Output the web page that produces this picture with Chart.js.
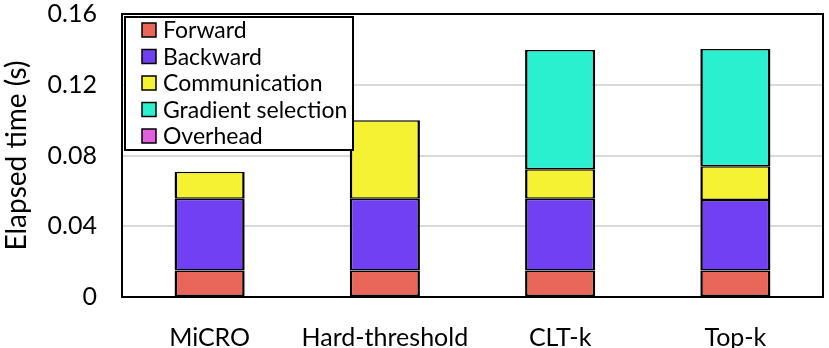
<!DOCTYPE html>
<html>
<head>
<meta charset="utf-8">
<script src="https://cdn.jsdelivr.net/npm/chart.js@4/dist/chart.umd.min.js"></script>
<style>
  html, body { margin: 0; padding: 0; background: #fff; }
  #wrap { width: 829px; height: 348px; }
</style>
</head>
<body>
<div id="wrap"><canvas id="chart" width="829" height="348"></canvas></div>
<script>
// tick labels and series (seconds); null = no segment
const methods = ['MiCRO', 'Hard-threshold', 'CLT-k', 'Top-k'];
const forward = [0.015, 0.015, 0.015, 0.015];
const backward = [0.0406, 0.0406, 0.0406, 0.0398];
const communication = [0.0152, 0.0444, 0.0166, 0.0191];
const gradientSelection = [null, null, 0.0674, 0.0663];
const overhead = [null, null, null, null];

const seriesNames = ['Forward', 'Backward', 'Communication', 'Gradient selection', 'Overhead'];
const seriesColors = ['#E8665A', '#7040F2', '#F4F232', '#2AF0D0', '#E060E0'];

const FONT = 'Lato, "Open Sans", sans-serif';

// legend box drawn inside the plot, like the original figure
const boxLegend = {
    id: 'boxLegend',
    afterDatasetsDraw(chart) {
        const ctx = chart.ctx;
        const area = chart.chartArea;
        const x0 = area.left + 3, y0 = area.top + 3;
        const w = 228, h = 133;
        ctx.save();
        ctx.fillStyle = '#fff';
        ctx.fillRect(x0, y0, w, h);
        ctx.lineWidth = 2;
        ctx.strokeStyle = '#000';
        ctx.strokeRect(x0, y0, w, h);
        ctx.font = '23px ' + FONT;
        ctx.textBaseline = 'middle';
        chart.data.datasets.forEach((ds, i) => {
            const cy = y0 + 13 + i * 26.5;
            ctx.fillStyle = ds.backgroundColor;
            ctx.fillRect(x0 + 17, cy - 7, 14, 14);
            ctx.lineWidth = 1.5;
            ctx.strokeRect(x0 + 17, cy - 7, 14, 14);
            ctx.fillStyle = '#000';
            ctx.fillText(ds.label, x0 + 38, cy + 1);
        });
        ctx.restore();
    },
    afterDraw(chart) {
        const ctx = chart.ctx;
        const a = chart.chartArea;
        ctx.save();
        ctx.lineWidth = 2;
        ctx.strokeStyle = '#000';
        ctx.strokeRect(a.left, a.top, a.right - a.left, a.bottom - a.top);
        ctx.restore();
    }
};

const allSeries = [forward, backward, communication, gradientSelection, overhead];

new Chart(document.getElementById('chart').getContext('2d'), {
    type: 'bar',
    data: {
        labels: methods,
        datasets: allSeries.map((vals, i) => ({
            label: seriesNames[i],
            data: vals,
            backgroundColor: seriesColors[i],
            borderColor: '#000',
            borderWidth: { top: 1.5, bottom: 1.5, left: 2.5, right: 2.5 },
            borderSkipped: false,
            categoryPercentage: 1,
            barPercentage: 0.4
        }))
    },
    options: {
        responsive: false,
        animation: false,
        layout: { padding: { top: 14, right: 6, left: 0, bottom: 0 } },
        plugins: {
            legend: { display: false },
            tooltip: { enabled: false }
        },
        scales: {
            x: {
                stacked: true,
                grid: { display: false },
                border: { display: false },
                ticks: { color: '#000', font: { family: FONT, size: 25 }, padding: 18, maxRotation: 0 },
                afterFit(scale) {
                    scale.height = 51;
                    scale.paddingLeft = 0;
                    scale.paddingRight = 0;
                }
            },
            y: {
                stacked: true,
                min: 0,
                max: 0.16,
                border: { display: false },
                grid: {
                    drawTicks: false,
                    lineWidth: 2,
                    color: ctx => (ctx.tick.value > 0 && ctx.tick.value < 0.16) ? '#D9D9D9' : 'rgba(0,0,0,0)'
                },
                ticks: {
                    stepSize: 0.04,
                    color: '#000',
                    padding: 25,
                    font: { family: FONT, size: 25 },
                    callback: v => v === 0 ? '0' : v.toFixed(2)
                },
                title: {
                    display: true,
                    text: 'Elapsed time (s)',
                    color: '#000',
                    font: { family: FONT, size: 28 },
                    padding: { top: 0, bottom: 0 }
                },
                afterFit(scale) {
                    scale.width = 122;
                    scale.paddingTop = 0;
                    scale.paddingBottom = 0;
                }
            }
        }
    },
    plugins: [boxLegend]
});
</script>
</body>
</html>
